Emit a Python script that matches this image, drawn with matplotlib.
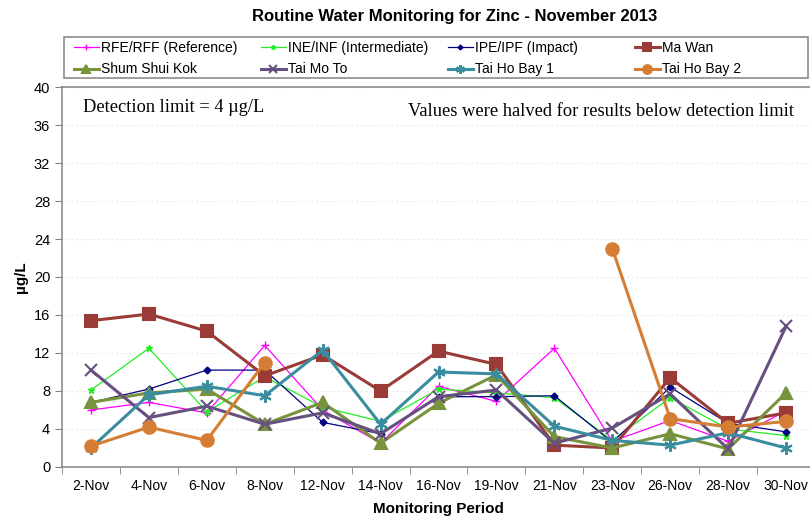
import numpy as np
import matplotlib.pyplot as plt
from matplotlib.patches import Rectangle

plt.rcParams['font.family'] = ['Liberation Sans', 'DejaVu Sans']

dates = ['2-Nov', '4-Nov', '6-Nov', '8-Nov', '12-Nov', '14-Nov', '16-Nov',
         '19-Nov', '21-Nov', '23-Nov', '26-Nov', '28-Nov', '30-Nov']

rfe = [6.0, 6.8, 5.7, 12.8, 6.0, 2.5, 8.5, 6.9, 12.5, 2.7, 4.9, 2.7, 5.9]
ine = [8.1, 12.5, 5.8, 9.5, 6.3, 4.8, 8.2, 7.8, 7.3, 2.8, 7.3, 4.0, 3.3]
ipe = [6.8, 8.2, 10.2, 10.2, 4.7, 3.5, 7.4, 7.4, 7.5, 2.6, 8.4, 4.6, 3.7]
ma_wan = [15.4, 16.1, 14.3, 9.6, 11.8, 8.0, 12.2, 10.8, 2.3, 2.0, 9.4, 4.6, 5.7]
shum_shui_kok = [6.8, 7.8, 8.2, 4.5, 6.8, 2.5, 6.7, 9.7, 3.2, 2.0, 3.5, 1.9, 7.8]
tai_mo_to = [10.2, 5.2, 6.4, 4.5, 5.7, 3.5, 7.4, 8.1, 2.5, 4.1, 7.7, 1.9, 14.8]
tai_ho_bay_1 = [2.0, 7.6, 8.5, 7.5, 12.3, 4.5, 10.0, 9.8, 4.3, 2.8, 2.3, 3.6, 2.0]
tai_ho_bay_2 = [2.2, 4.2, 2.8, 11.0, None, None, None, None, None, 23.0, 5.1, 4.2, 4.8]

series = [
    ('RFE/RFF (Reference)', rfe, '#FF00FF', '+', 6, 0.9),
    ('INE/INF (Intermediate)', ine, '#22EE22', '*', 5, 0.9),
    ('IPE/IPF (Impact)', ipe, '#000080', 'D', 3.5, 0.9),
    ('Ma Wan', ma_wan, '#9B3B38', 's', 8, 2.2),
    ('Shum Shui Kok', shum_shui_kok, '#77933C', '^', 9, 2.2),
    ('Tai Mo To', tai_mo_to, '#66507F', 'x', 9, 2.2),
    ('Tai Ho Bay 1', tai_ho_bay_1, '#3A8C9F', (6, 2, 0), 9, 2.2),
    ('Tai Ho Bay 2', tai_ho_bay_2, '#D67D35', 'o', 9, 2.2),
]

fig = plt.figure(figsize=(8.1, 5.17), dpi=100)
ax = fig.add_axes([62 / 810, 50 / 517, 753 / 810, 380 / 517])

x = np.arange(len(dates))
handles = []
for name, vals, color, marker, ms, lw in series:
    y = np.array([np.nan if v is None else v for v in vals], dtype=float)
    h, = ax.plot(x, y, color=color, marker=marker, markersize=ms, linewidth=lw,
                 markeredgewidth=1.5 if lw > 1.5 else 1.0, label=name)
    handles.append(h)

ax.set_xlim(-0.5, len(dates) - 0.5)
ax.set_ylim(0, 40)
ax.set_yticks(np.arange(0, 41, 4))
ax.set_xticks(x)
ax.set_xticklabels(dates, fontsize=10)
ax.set_xticks(np.arange(-0.5, len(dates), 1), minor=True)
ax.tick_params(axis='x', which='major', length=0, pad=9)
ax.tick_params(axis='x', which='minor', length=5, direction='out', color='#808080')
ax.tick_params(axis='y', length=5, direction='out', color='#808080', labelsize=10.5)
ax.yaxis.grid(True, color='#EBEBEB', linewidth=0.8, linestyle=(0, (2, 2)))
ax.set_axisbelow(True)
for side in ['left', 'bottom', 'top', 'right']:
    ax.spines[side].set_color('#8C8C8C')
    ax.spines[side].set_linewidth(1.2)

ax.set_xlabel('Monitoring Period', fontsize=11, fontweight='bold', labelpad=6)
ax.set_ylabel('µg/L', fontsize=11, fontweight='bold', labelpad=4)
fig.text(455 / 810, 1 - 17 / 517, 'Routine Water Monitoring for Zinc - November 2013',
         ha='center', va='center', fontsize=12, fontweight='bold')

serif = ['Liberation Serif', 'DejaVu Serif']
ax.text(83 / 810, 1 - 108 / 517, 'Detection limit = 4 µg/L', transform=fig.transFigure,
        family=serif, fontsize=13.2, va='center', ha='left')
ax.text(794 / 810, 1 - 111 / 517, 'Values were halved for results below detection limit',
        transform=fig.transFigure, family=serif, fontsize=13.3, va='center', ha='right')

# legend box with four fixed-width columns
fig.patches.append(Rectangle((64 / 810, 1 - 78 / 517), 744 / 810, 41 / 517,
                             transform=fig.transFigure, facecolor='white',
                             edgecolor='#8C8C8C', linewidth=1.2))
col_x = [71, 258, 445, 632]
for i, cx in enumerate(col_x):
    pair = [handles[i], handles[i + 4]]
    fig.legend(pair, [h.get_label() for h in pair], loc='upper left',
               bbox_to_anchor=(cx / 810, 1 - 38 / 517), frameon=False,
               fontsize=10, handlelength=1.8, handletextpad=0.15,
               labelspacing=0.55, borderpad=0.2, borderaxespad=0,
               markerscale=0.7)

fig.savefig('out.png', dpi=100)
